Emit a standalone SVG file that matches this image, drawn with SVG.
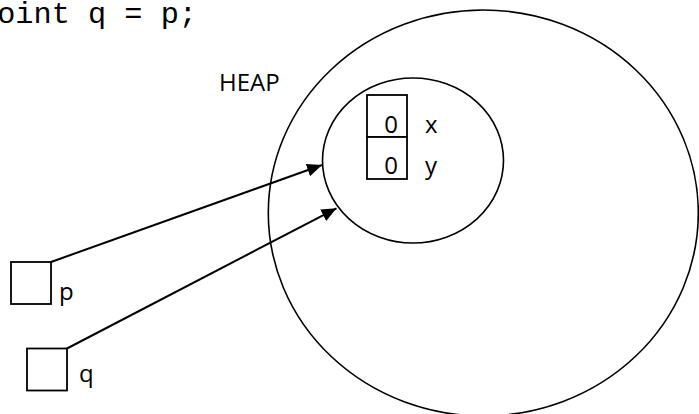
<svg xmlns="http://www.w3.org/2000/svg" width="699" height="414" viewBox="0 0 699 414">
<style>
.sh{fill:none;stroke:#000;stroke-width:1.6}
.bx{fill:#fff;stroke:#000;stroke-width:1.8}
.lb{font-family:"Open Sans","Liberation Sans",sans-serif;font-size:24px;fill:#000}
.code{font-family:"Liberation Mono","DejaVu Sans Mono",monospace;font-size:30px;fill:#000}
.cn{fill:none;stroke:#000;stroke-width:2}
</style>
<defs>
<marker id="ah" markerUnits="userSpaceOnUse" markerWidth="16" markerHeight="14" refX="15" refY="6.5" orient="auto">
<path d="M0,0 L15,6.5 L0,13 z" fill="#000"/>
</marker>
</defs>
<rect width="699" height="414" fill="#fff"/>
<text class="code" x="-21" y="23" textLength="218" lengthAdjust="spacingAndGlyphs">Point q = p;</text>
<g id="heap">
<ellipse class="sh" cx="483.3" cy="213" rx="215" ry="203"/>
<text class="lb" x="219" y="91">HEAP</text>
</g>
<g id="object">
<ellipse class="sh" cx="413" cy="160.5" rx="90.5" ry="82.5"/>
<rect class="bx" x="367" y="95" width="40" height="42"/>
<rect class="bx" x="367" y="137" width="40" height="42"/>
<text class="lb" x="398" y="133" text-anchor="end">0</text>
<text class="lb" x="398" y="173.5" text-anchor="end">0</text>
<text class="lb" x="425" y="133">x</text>
<text class="lb" x="425" y="173.5">y</text>
</g>
<g id="p">
<rect class="bx" x="11" y="262" width="40" height="42"/>
<text class="lb" x="59" y="300">p</text>
</g>
<g id="q">
<rect class="bx" x="27" y="348.5" width="40" height="42"/>
<text class="lb" x="79" y="382">q</text>
</g>
<g id="connectors">
<line class="cn" x1="51" y1="262" x2="322" y2="165" marker-end="url(#ah)"/>
<line class="cn" x1="67" y1="348.5" x2="336.5" y2="208.3" marker-end="url(#ah)"/>
</g>
</svg>
